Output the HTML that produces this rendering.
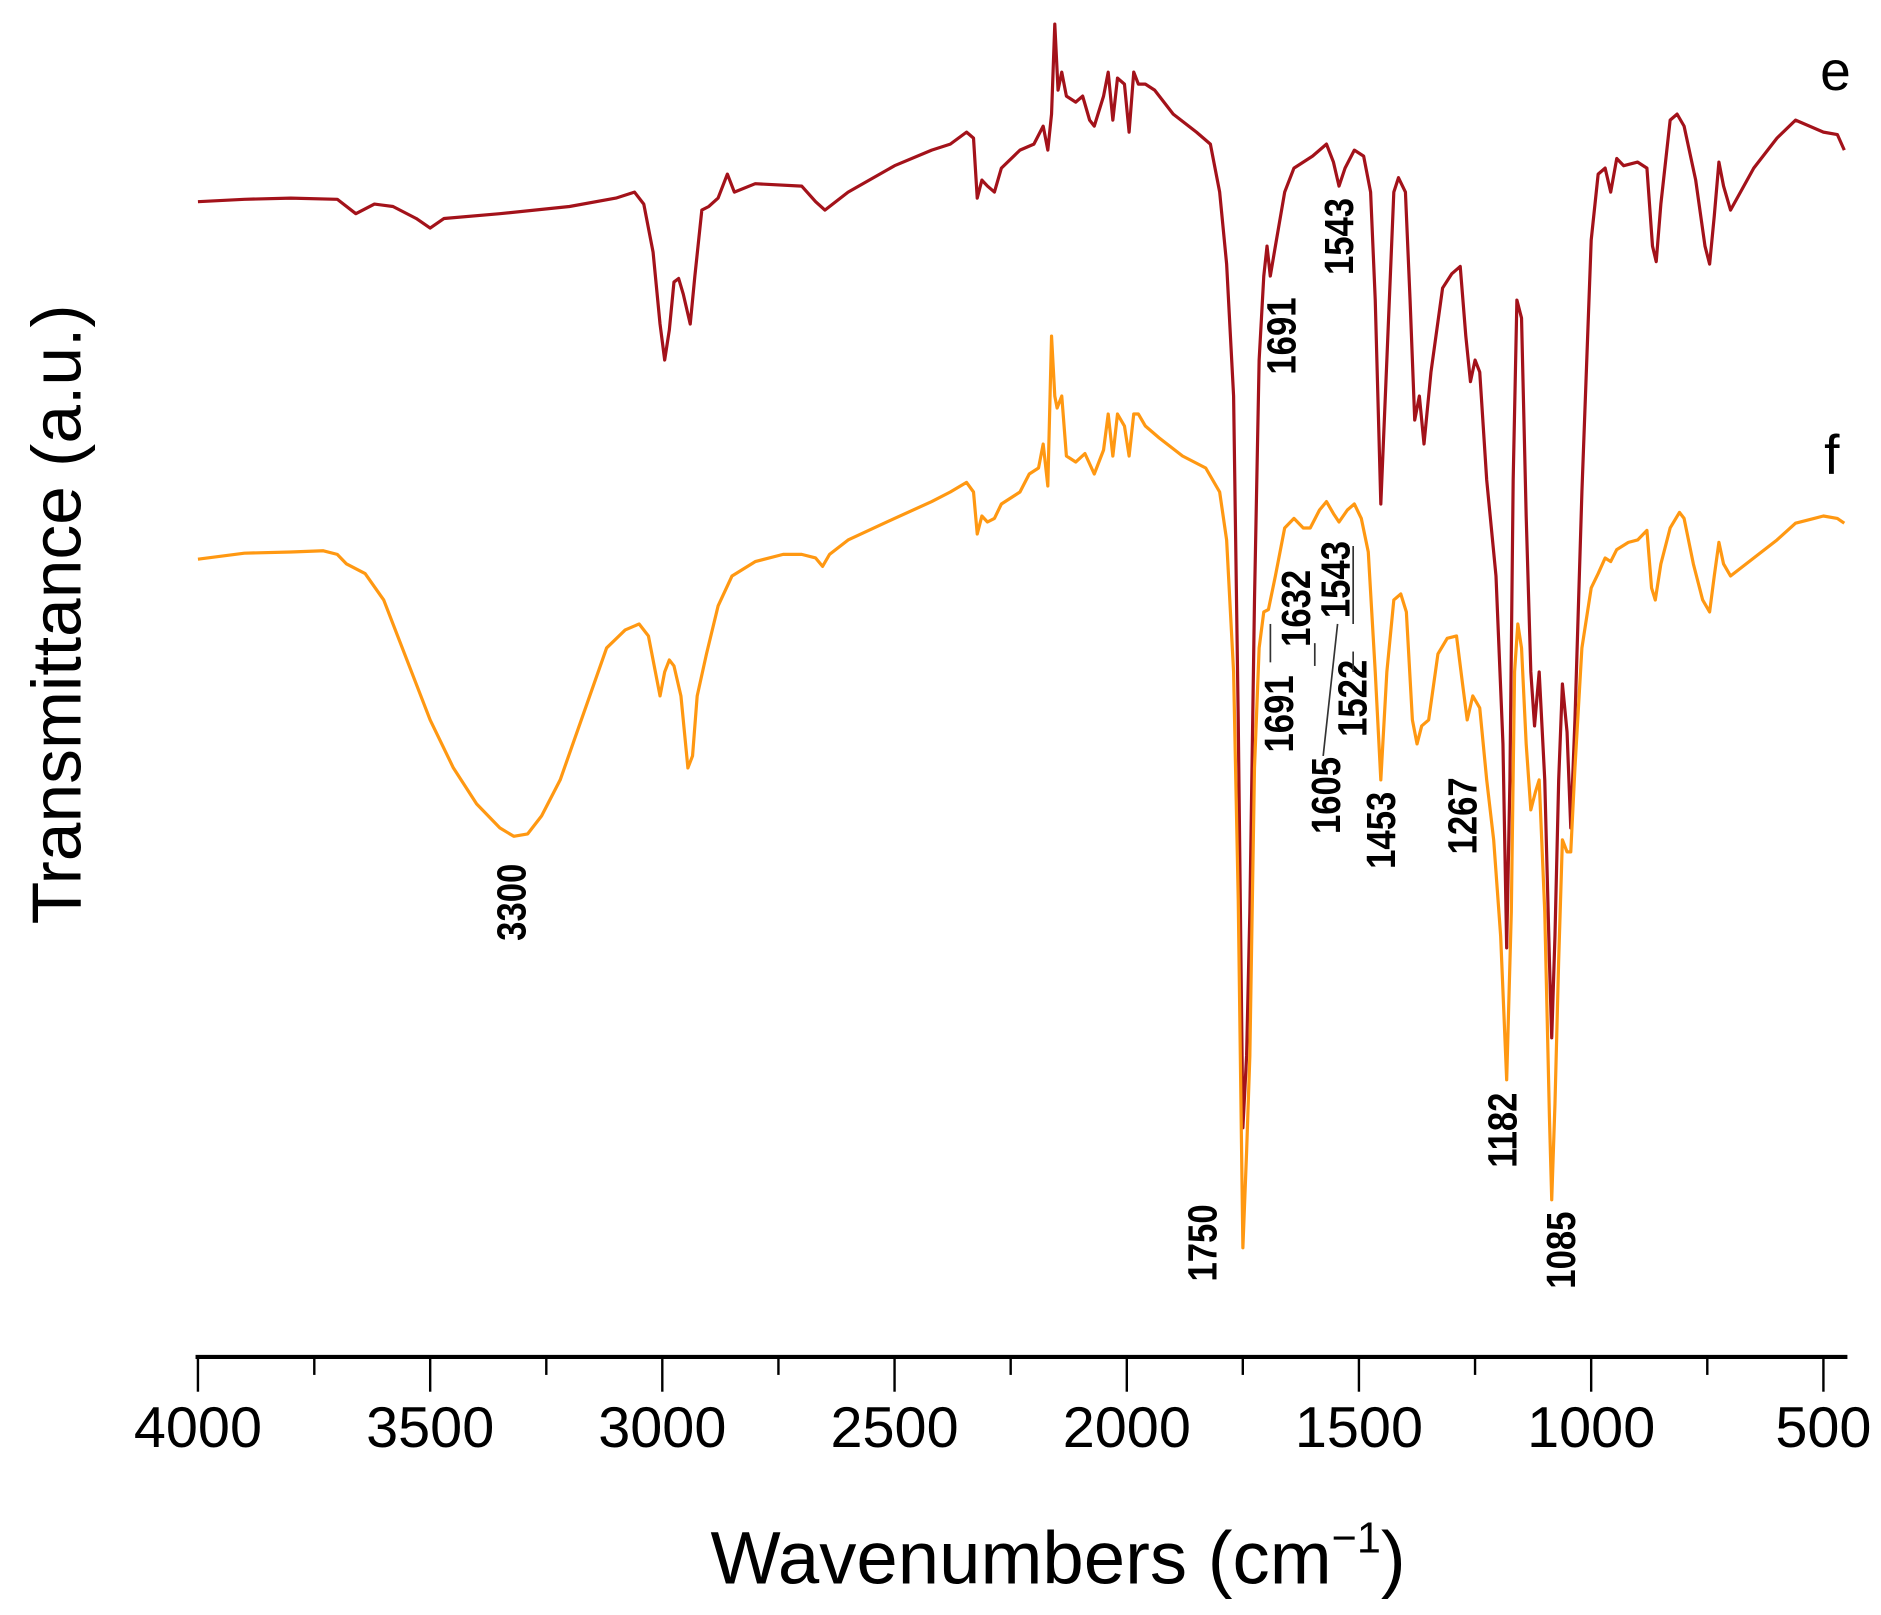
<!DOCTYPE html>
<html><head><meta charset="utf-8"><style>
html,body{margin:0;padding:0;background:#fff;}
svg{display:block;}
text{font-family:"Liberation Sans",Arial,sans-serif;}
</style></head><body>
<svg width="1881" height="1615" viewBox="0 0 1568 1346" xmlns="http://www.w3.org/2000/svg">
<g transform="translate(1713.56,0) scale(-0.38714,1)" fill="none" stroke-linejoin="round">
<polyline vector-effect="non-scaling-stroke" stroke="#A3121A" stroke-width="3.2" points="
4000,168 3900,166 3800,165 3700,166 3660,178 3620,170 3580,172 3530,182 3500,190 3470,182 3350,178 3200,172 3100,165 3060,160 3040,170 3020,210 3005,270 2995,300 2985,275 2975,235 2965,232 2955,245 2940,270 2930,230 2915,175 2900,172 2880,165 2860,145 2845,160 2800,153 2700,155 2670,168 2650,175 2600,160 2500,138 2420,125 2380,120 2345,110 2330,115 2322,165 2312,150 2300,155 2285,160 2270,140 2230,125 2200,120 2180,105 2170,125 2162,95 2155,20 2148,75 2140,60 2130,80 2110,85 2095,80 2080,100 2070,105 2050,80 2040,60 2030,100 2020,65 2005,70 1995,110 1985,60 1975,70 1960,70 1940,75 1900,95 1850,110 1820,120 1800,160 1785,220 1770,330 1760,600 1750,940 1742,880 1735,760 1725,500 1715,300 1705,230 1698,205 1691,230 1680,205 1660,160 1640,140 1600,130 1570,120 1555,135 1543,155 1530,140 1510,125 1490,130 1475,160 1465,250 1453,420 1440,300 1425,160 1415,148 1400,160 1390,250 1380,350 1370,330 1360,370 1345,310 1320,240 1300,228 1282,222 1270,280 1260,318 1250,300 1240,310 1225,400 1205,480 1190,620 1182,790 1175,650 1168,400 1160,250 1150,265 1140,430 1130,560 1122,605 1112,560 1100,650 1090,800 1085,865 1078,780 1070,650 1062,570 1052,610 1044,690 1035,600 1020,410 1000,200 985,145 970,140 958,160 945,132 930,138 900,135 880,140 868,205 860,218 850,170 830,100 815,95 800,105 775,150 755,205 745,220 735,180 725,135 715,155 700,175 650,140 600,115 560,100 500,110 470,112 455,125"/>
<polyline vector-effect="non-scaling-stroke" stroke="#FF9812" stroke-width="3.2" points="
4000,466 3900,461 3800,460 3730,459 3700,462 3680,470 3640,478 3600,500 3560,540 3500,600 3450,640 3400,670 3350,690 3320,697 3290,695 3260,680 3220,650 3170,595 3120,540 3080,525 3050,520 3030,530 3015,560 3005,580 2995,560 2985,550 2975,555 2960,580 2945,640 2935,630 2925,580 2905,545 2880,505 2850,480 2800,468 2740,462 2700,462 2670,465 2655,472 2640,462 2600,450 2500,432 2420,418 2380,410 2345,402 2330,410 2322,445 2312,430 2300,435 2285,432 2270,420 2230,410 2210,395 2190,390 2180,370 2170,405 2162,280 2155,330 2150,340 2140,330 2130,380 2110,385 2090,378 2070,395 2050,375 2040,345 2030,380 2020,345 2005,355 1995,380 1985,345 1975,345 1960,355 1930,365 1880,380 1830,390 1800,410 1785,450 1770,560 1760,750 1750,1040 1742,960 1735,880 1725,640 1715,540 1705,510 1695,508 1680,480 1660,440 1640,432 1620,440 1605,440 1585,425 1570,418 1555,428 1543,435 1525,425 1510,420 1495,432 1480,460 1465,560 1453,650 1440,560 1425,500 1410,495 1398,510 1385,600 1375,620 1365,605 1350,600 1330,545 1310,532 1290,530 1277,570 1267,600 1255,580 1240,590 1225,650 1210,700 1195,780 1182,900 1172,760 1165,560 1158,520 1150,540 1140,620 1130,675 1120,660 1112,650 1100,760 1090,930 1085,1000 1078,920 1070,800 1062,700 1052,710 1044,710 1035,640 1020,540 1000,490 985,478 970,465 958,468 945,458 920,452 900,450 880,442 870,490 862,500 850,470 830,440 810,427 800,432 780,470 760,500 745,510 735,480 725,452 715,470 700,480 650,465 600,450 560,436 520,432 500,430 470,432 455,436"/>
</g>
<line x1="163" y1="1131" x2="1540" y2="1131" stroke="#000" stroke-width="3.5"/>
<g stroke="#000" stroke-width="2">
<line x1="165" y1="1131" x2="165" y2="1160"/><line x1="262" y1="1131" x2="262" y2="1146"/>
<line x1="358.6" y1="1131" x2="358.6" y2="1160"/><line x1="455.4" y1="1131" x2="455.4" y2="1146"/>
<line x1="552.1" y1="1131" x2="552.1" y2="1160"/><line x1="648.9" y1="1131" x2="648.9" y2="1146"/>
<line x1="745.7" y1="1131" x2="745.7" y2="1160"/><line x1="842.5" y1="1131" x2="842.5" y2="1146"/>
<line x1="939.3" y1="1131" x2="939.3" y2="1160"/><line x1="1036" y1="1131" x2="1036" y2="1146"/>
<line x1="1132.8" y1="1131" x2="1132.8" y2="1160"/><line x1="1229.6" y1="1131" x2="1229.6" y2="1146"/>
<line x1="1326.4" y1="1131" x2="1326.4" y2="1160"/><line x1="1423.2" y1="1131" x2="1423.2" y2="1146"/>
<line x1="1520" y1="1131" x2="1520" y2="1160"/>
</g>
<g font-size="48" text-anchor="middle" fill="#000">
<text x="165" y="1206">4000</text><text x="358.6" y="1206">3500</text><text x="552.1" y="1206">3000</text>
<text x="745.7" y="1206">2500</text><text x="939.3" y="1206">2000</text><text x="1132.8" y="1206">1500</text>
<text x="1326.4" y="1206">1000</text><text x="1520" y="1206">500</text>
</g>
<text x="882" y="1320" font-size="62" text-anchor="middle">Wavenumbers (cm<tspan font-size="36" dy="-26">−1</tspan><tspan dy="26">)</tspan></text>
<text transform="translate(67,512) rotate(-90)" font-size="58" text-anchor="middle">Transmittance (a.u.)</text>
<text x="1530" y="75" font-size="46" text-anchor="middle">e</text>
<text x="1527" y="395" font-size="46" text-anchor="middle">f</text>
<g font-size="34" font-weight="bold" text-anchor="middle" fill="#000">
<text transform="translate(1080,280) scale(1,0.85) rotate(-90)">1691</text>
<text transform="translate(1128,197) scale(1,0.85) rotate(-90)">1543</text>
<text transform="translate(438,752) scale(1,0.85) rotate(-90)">3300</text>
<text transform="translate(1014,1036) scale(1,0.85) rotate(-90)">1750</text>
<text transform="translate(1078,595) scale(1,0.85) rotate(-90)">1691</text>
<text transform="translate(1092,507) scale(1,0.85) rotate(-90)">1632</text>
<text transform="translate(1117,663) scale(1,0.85) rotate(-90)">1605</text>
<text transform="translate(1139,582) scale(1,0.85) rotate(-90)">1522</text>
<text transform="translate(1125,483) scale(1,0.85) rotate(-90)">1543</text>
<text transform="translate(1163,692) scale(1,0.85) rotate(-90)">1453</text>
<text transform="translate(1231,680) scale(1,0.85) rotate(-90)">1267</text>
<text transform="translate(1264,942) scale(1,0.85) rotate(-90)">1182</text>
<text transform="translate(1313,1042) scale(1,0.85) rotate(-90)">1085</text>
</g>
<g stroke="#333" stroke-width="1.4">
<line x1="1059" y1="520" x2="1059" y2="552"/>
<line x1="1096" y1="536" x2="1096" y2="555"/>
<line x1="1103" y1="630" x2="1115" y2="520"/>
<line x1="1128" y1="455" x2="1128" y2="520"/>
<line x1="1128" y1="543" x2="1128" y2="560"/>
</g>
</svg>
</body></html>
